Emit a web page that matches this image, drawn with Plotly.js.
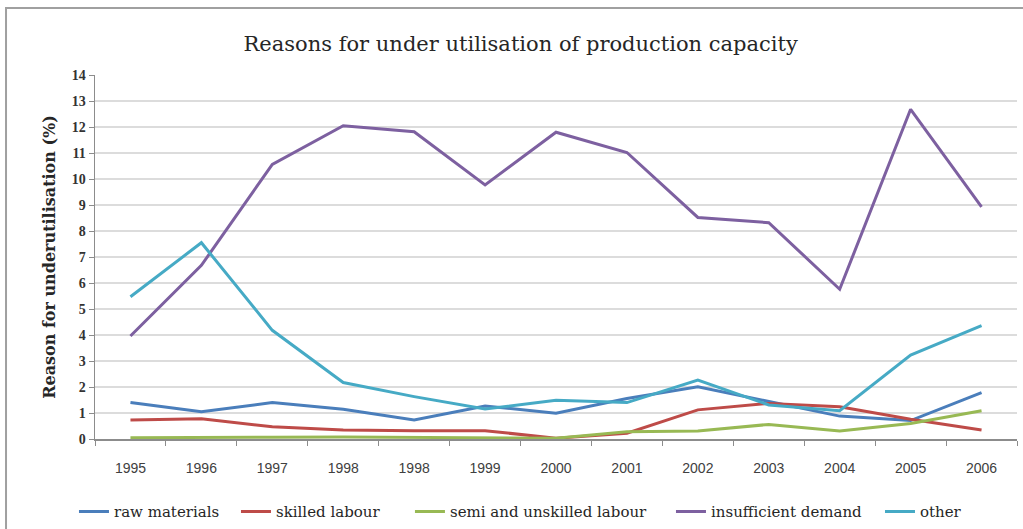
<!DOCTYPE html>
<html>
<head>
<meta charset="utf-8">
<script src="https://cdn.plot.ly/plotly-3.0.1.min.js"></script>
<style>
  html, body { margin: 0; padding: 0; background: #fff; }
  #chart { width: 1023px; height: 529px; }
</style>
</head>
<body>
<div id="chart"></div>
<script>
// Year labels along the horizontal axis (1998 appears twice in the source series)
const years = ["1995", "1996", "1997", "1998", "1998", "1999", "2000",
               "2001", "2002", "2003", "2004", "2005", "2006"];

// Share of firms citing each reason (%)
const rawMaterials       = [1.40, 1.05, 1.40, 1.14, 0.73, 1.27, 0.99, 1.56, 2.01, 1.44, 0.88, 0.71, 1.78];
const skilledLabour      = [0.73, 0.78, 0.47, 0.35, 0.32, 0.32, 0.03, 0.22, 1.12, 1.37, 1.24, 0.76, 0.35];
const semiUnskilled      = [0.05, 0.05, 0.07, 0.08, 0.07, 0.05, 0.03, 0.28, 0.31, 0.56, 0.31, 0.60, 1.09];
const insufficientDemand = [3.96, 6.68, 10.56, 12.05, 11.82, 9.77, 11.80, 11.02, 8.52, 8.32, 5.76, 12.68, 8.93];
const other              = [5.47, 7.55, 4.18, 2.17, 1.63, 1.15, 1.49, 1.40, 2.27, 1.31, 1.09, 3.23, 4.36];

const yTicks = [0,1,2,3,4,5,6,7,8,9,10,11,12,13,14];

const idx = years.map((_, i) => i);
const boundaries = years.concat([""]).map((_, i) => i - 0.5);

const series = [
  { name: "raw materials",              y: rawMaterials,       color: "#4a7ebb" },
  { name: "skilled labour",             y: skilledLabour,      color: "#be4b48" },
  { name: "semi and unskilled labour",  y: semiUnskilled,      color: "#98b954" },
  { name: "insufficient demand",        y: insufficientDemand, color: "#7d60a0" },
  { name: "other",                      y: other,              color: "#46aac5" }
];

// Each series gets its own legend box so the entries can be spaced freely
const legendIds = ["legend", "legend2", "legend3", "legend4", "legend5"];
const legendX   = [-0.0228, 0.1529, 0.3416, 0.6247, 0.8514];

const traces = series.map((s, i) => ({
  type: "scatter",
  mode: "lines",
  name: s.name,
  x: idx,
  y: s.y,
  xaxis: "x",
  yaxis: "y",
  legend: legendIds[i],
  line: { color: s.color, width: 3 },
  hoverinfo: "name+y"
}));

const wideSerif = "DejaVu Serif, Liberation Serif, serif";
const serif = "Liberation Serif, DejaVu Serif, serif";
const axisGray = "#8c8c8c";

const layout = {
  width: 1023,
  height: 529,
  paper_bgcolor: "#ffffff",
  plot_bgcolor: "#ffffff",
  margin: { l: 95, r: 6, t: 75, b: 90, autoexpand: false },
  title: {
    text: "Reasons for under utilisation of production capacity",
    font: { family: wideSerif, size: 21, color: "#262626" },
    x: 0.509, xanchor: "center",
    y: 0.917, yanchor: "middle"
  },
  showlegend: true,
  // Boundary tick marks between categories
  xaxis: {
    range: [-0.5, 12.5],
    tickmode: "array",
    tickvals: boundaries,
    ticktext: boundaries.map(() => ""),
    ticks: "outside",
    ticklen: 5,
    tickcolor: axisGray,
    tickwidth: 1,
    showgrid: false,
    zeroline: false,
    showline: true,
    linecolor: axisGray,
    linewidth: 1.5,
    automargin: false,
    fixedrange: true
  },
  // Year labels centred under each category
  xaxis2: {
    overlaying: "x",
    side: "bottom",
    range: [-0.5, 12.5],
    tickmode: "array",
    tickvals: idx,
    ticktext: years,
    ticks: "",
    ticklabelstandoff: 19,
    tickfont: { family: "Liberation Sans Narrow, Liberation Sans, Arial, sans-serif", size: 14, color: "#404040" },
    showgrid: false,
    zeroline: false,
    showline: false,
    automargin: false,
    fixedrange: true
  },
  yaxis: {
    range: [0, 14],
    tickmode: "array",
    tickvals: yTicks,
    ticktext: yTicks.map(String),
    ticks: "outside",
    ticklen: 5,
    tickcolor: axisGray,
    tickfont: { family: serif, size: 14, color: "#333333", weight: "bold" },
    showgrid: true,
    gridcolor: "#dcdcdc",
    gridwidth: 1.5,
    zeroline: false,
    showline: true,
    linecolor: axisGray,
    linewidth: 1.5,
    automargin: false,
    title: {
      text: "Reason for underutilisation (%)",
      font: { family: wideSerif, size: 16, color: "#262626", weight: "bold" },
      standoff: 12
    },
    fixedrange: true
  },
  shapes: [
    {
      type: "rect", xref: "paper", yref: "paper",
      x0: -0.0965, x1: 1.05, y0: -0.5, y1: 1.184,
      line: { color: "#a0a0a0", width: 2 },
      fillcolor: "rgba(0,0,0,0)",
      layer: "below"
    }
  ]
};

legendIds.forEach((id, i) => {
  layout[id] = {
    orientation: "h",
    x: legendX[i], xanchor: "left",
    y: -0.2, yanchor: "middle",
    font: { family: wideSerif, size: 15, color: "#262626" },
    itemwidth: 30,
    bgcolor: "rgba(0,0,0,0)"
  };
});

// A hidden trace keeps the label axis drawn
traces.push({
  type: "scatter", mode: "markers", x: [0], y: [0],
  xaxis: "x2", yaxis: "y",
  marker: { opacity: 0 }, showlegend: false, hoverinfo: "skip"
});

Plotly.newPlot("chart", traces, layout, { displayModeBar: false, staticPlot: true });
</script>
</body>
</html>
